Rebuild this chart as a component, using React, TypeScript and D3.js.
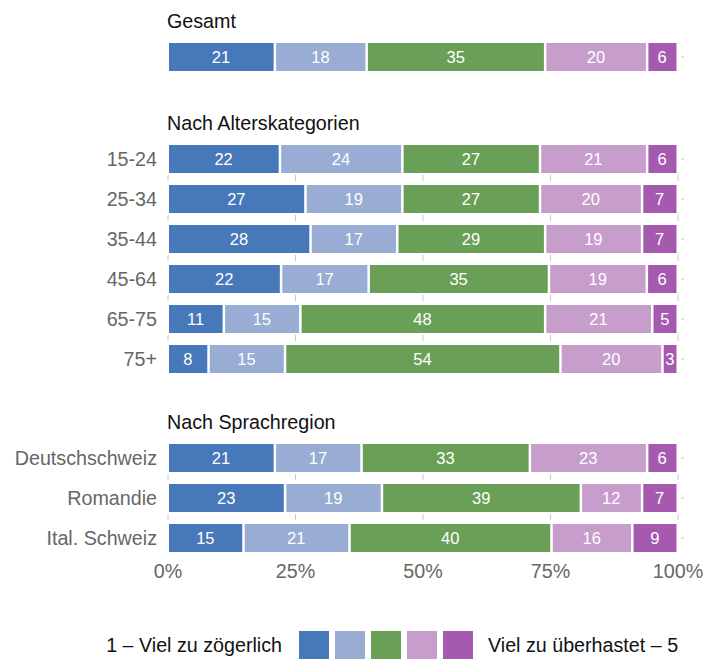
import React from "react";
import * as d3 from "d3";

const levels = ["1", "2", "3", "4", "5"];
const colors = ["#4779ba", "#98acd4", "#6a9f57", "#c69dcb", "#a55ab0"];

const gesamtRows = ["Gesamt"];
const gesamtValues = [[21, 18, 35, 20, 6]];

const ageRows = ["15-24", "25-34", "35-44", "45-64", "65-75", "75+"];
const ageValues = [
  [22, 24, 27, 21, 6],
  [27, 19, 27, 20, 7],
  [28, 17, 29, 19, 7],
  [22, 17, 35, 19, 6],
  [11, 15, 48, 21, 5],
  [8, 15, 54, 20, 3],
];

const regionRows = ["Deutschschweiz", "Romandie", "Ital. Schweiz"];
const regionValues = [
  [21, 17, 33, 23, 6],
  [23, 19, 39, 12, 7],
  [15, 21, 40, 16, 9],
];

const tickValues = [0, 0.25, 0.5, 0.75, 1];
const legendLeft = "1 – Viel zu zögerlich";
const legendRight = "Viel zu überhastet – 5";

const FONT = "'Liberation Sans', Arial, Helvetica, sans-serif";
const FS = 19.7;

const x = d3.scaleLinear().domain([0, 1]).range([168, 678]);

type Group = {
  title: string;
  rows: string[];
  values: number[][];
  top: number; // top of first bar
};

const groups: Group[] = [
  { title: "Gesamt", rows: gesamtRows, values: gesamtValues, top: 43 },
  { title: "Nach Alterskategorien", rows: ageRows, values: ageValues, top: 145 },
  { title: "Nach Sprachregion", rows: regionRows, values: regionValues, top: 444 },
];

const STEP = 40;

function GroupBars({ g }: { g: Group }) {
  const y = d3
    .scaleBand<string>()
    .domain(g.rows)
    .range([g.top - STEP * 0.15, g.top - STEP * 0.15 + STEP * g.rows.length])
    .paddingInner(0.3)
    .paddingOuter(0.15);
  const bw = y.bandwidth();
  const stack = d3
    .stack<number[]>()
    .keys(levels.map((_, i) => String(i)))
    .value((d, k) => d[+k] / d3.sum(d));
  const series = stack(g.values);

  return (
    <g>
      <text x={167} y={g.top - 15} fontSize={FS} fill="#111" fontFamily={FONT}>
        {g.title}
      </text>
      {g.rows.map((r, ri) => {
        const y0 = y(r)!;
        return (
          <g key={r}>
            {g.title !== "Gesamt" && (
              <text
                x={157}
                y={y0 + bw / 2 + 7}
                textAnchor="end"
                fontSize={FS}
                fill="#666"
                fontFamily={FONT}
              >
                {r}
              </text>
            )}
            {series.map((s, si) => {
              const seg = s[ri];
              const x0 = x(seg[0]);
              const x1 = x(seg[1]);
              return (
                <g key={si}>
                  <rect
                    x={x0 + 1}
                    y={y0}
                    width={Math.max(0, x1 - x0 - 2.5)}
                    height={bw}
                    fill={colors[si]}
                  />
                  <text
                    x={(x0 + x1) / 2 - 0.5}
                    y={y0 + bw / 2 + 6}
                    textAnchor="middle"
                    fontSize={16.5}
                    fill="#fff"
                    fontFamily={FONT}
                  >
                    {g.values[ri][si]}
                  </text>
                </g>
              );
            })}
            <line x1={681} x2={684} y1={y0 + bw / 2} y2={y0 + bw / 2} stroke="#c8c8c8" />
            {ri < g.rows.length - 1 &&
              tickValues.map((t) => (
                <line
                  key={t}
                  x1={x(t)}
                  x2={x(t)}
                  y1={y0 + bw + 2}
                  y2={y0 + bw + 8}
                  stroke="#c8c8c8"
                />
              ))}
          </g>
        );
      })}
    </g>
  );
}

export default function App() {
  return (
    <svg
      width={707}
      height={659}
      style={{ position: "absolute", left: 0, top: 0, background: "#fff" }}
    >
      {groups.map((g) => (
        <GroupBars key={g.title} g={g} />
      ))}
      {tickValues.map((t) => (
        <text
          key={t}
          x={x(t)}
          y={578}
          textAnchor="middle"
          fontSize={FS}
          fill="#666"
          fontFamily={FONT}
        >
          {d3.format(".0%")(t)}
        </text>
      ))}
      <text x={282} y={652} textAnchor="end" fontSize={FS} fill="#111" fontFamily={FONT}>
        {legendLeft}
      </text>
      {colors.map((c, i) => (
        <rect key={c} x={299 + i * 36} y={631} width={30} height={30} fill={c} />
      ))}
      <text x={488} y={652} fontSize={FS} fill="#111" fontFamily={FONT}>
        {legendRight}
      </text>
    </svg>
  );
}
